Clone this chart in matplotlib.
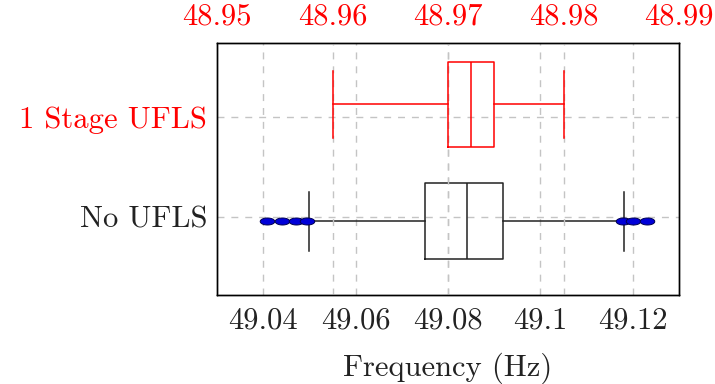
import matplotlib
matplotlib.use("Agg")
import matplotlib.pyplot as plt
import numpy as np
from matplotlib.path import Path

plt.rcParams.update({
    "font.family": "cmr10", "mathtext.fontset": "cm", "axes.unicode_minus": False,
    "font.size": 22, "axes.linewidth": 1.0, "text.color": "#222222",
})

# No UFLS (bottom axis, Hz)
base_stats = dict(whislo=49.050, q1=49.0751, med=49.0841, q3=49.0920, whishi=49.1180,
                  fliers=[49.0409, 49.0441, 49.0471, 49.0494, 49.1178, 49.1201, 49.1230])
# 1 Stage UFLS (top axis, Hz)
ufls_stats = dict(whislo=48.960, q1=48.970, med=48.972, q3=48.974, whishi=48.980, fliers=[])

bottom_ticks = [49.04, 49.06, 49.08, 49.10, 49.12]
bottom_labels = ["49.04", "49.06", "49.08", "49.1", "49.12"]
top_ticks = [48.95, 48.96, 48.97, 48.98, 48.99]
top_labels = ["48.95", "48.96", "48.97", "48.98", "48.99"]
cats = ["No UFLS", "1 Stage UFLS"]

t = np.linspace(0, 2 * np.pi, 40)
ellipse = Path(np.column_stack([np.cos(t), 0.48 * np.sin(t)]))

grid_kw = dict(color="#c4c4c4", lw=1.0, ls=(0, (5, 5)))
ink = "#222222"

fig = plt.figure(figsize=(7.15, 3.84), dpi=100)
ax = fig.add_axes([0.3035, 0.2318, 0.6462, 0.6563])
ax.set_xlim(49.03, 49.13)
ax.set_ylim(0.22, 2.74)
ax.bxp([base_stats], positions=[0.957], widths=[0.76], capwidths=[0.59], vert=False,
       manage_ticks=False,
       boxprops=dict(color=ink, lw=1.1), whiskerprops=dict(color=ink, lw=1.1),
       capprops=dict(color=ink, lw=1.1), medianprops=dict(color=ink, lw=1.1),
       flierprops=dict(marker=ellipse, ms=10.5, mfc="#0000d8", mec="#000050", mew=0.7, ls="none"),
       zorder=3)
ax.set_xticks(bottom_ticks)
ax.set_xticklabels(bottom_labels, color=ink)
ax.set_yticks([1, 2])
ax.set_yticklabels(cats, color=ink)
ax.get_yticklabels()[1].set_color("red")
ax.tick_params(axis="both", direction="in", length=0, pad=9)
ax.tick_params(axis="y", pad=7)
ax.set_xlabel("Frequency (Hz)", labelpad=13, color=ink)
for x in bottom_ticks:
    ax.axvline(x, zorder=0, **grid_kw)
for y in [1, 2]:
    ax.axhline(y, zorder=0, **grid_kw)

ax2 = ax.twiny()
ax2.set_xlim(48.95, 48.99)
ax2.bxp([ufls_stats], positions=[2.125], widths=[0.844], capwidths=[0.67], vert=False,
        manage_ticks=False,
        boxprops=dict(color="red", lw=1.1), whiskerprops=dict(color="red", lw=1.1),
        capprops=dict(color="red", lw=1.1), medianprops=dict(color="red", lw=1.1),
        showfliers=False, zorder=3)
ax2.set_ylim(0.22, 2.74)
ax2.set_xticks(top_ticks)
ax2.set_xticklabels(top_labels)
ax2.tick_params(axis="x", direction="in", length=0, pad=9, labelcolor="red")
for x in top_ticks:
    ax2.axvline(x, zorder=0, **grid_kw)

fig.savefig("out.png", dpi=100)
